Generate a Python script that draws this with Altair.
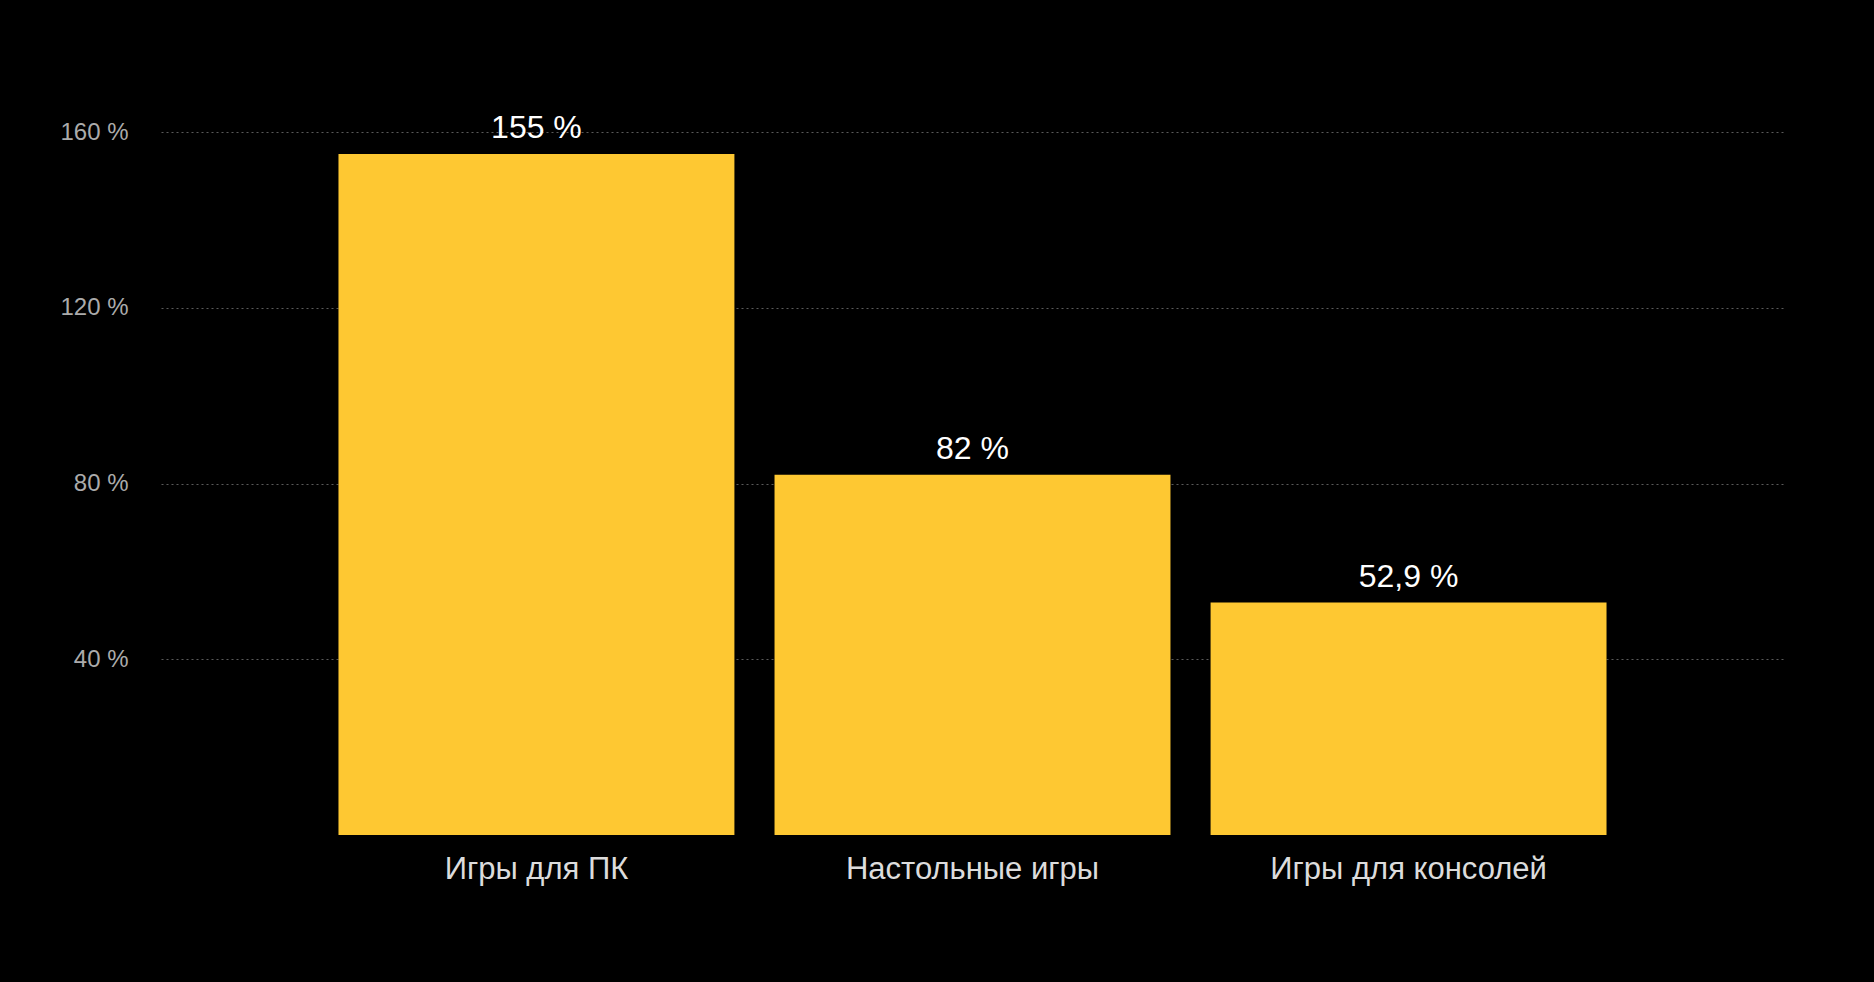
import altair as alt
import pandas as pd

categories = ["Игры для ПК", "Настольные игры", "Игры для консолей"]
values = [155, 82, 52.9]
labels = ["155 %", "82 %", "52,9 %"]
y_ticks = [40, 80, 120, 160]

df = pd.DataFrame({"cat": categories, "val": values, "lab": labels})

FONT = "Liberation Sans"

x = alt.X(
    "cat:N",
    sort=categories,
    title=None,
    scale=alt.Scale(paddingInner=0.092, paddingOuter=0.407),
    axis=alt.Axis(
        labelAngle=0,
        labelFont=FONT,
        labelFontSize=31,
        labelColor="#dcdcdc",
        labelPadding=19,
        labelLimit=0,
        ticks=False,
        domain=False,
        grid=False,
    ),
)
y = alt.Y(
    "val:Q",
    title=None,
    scale=alt.Scale(domain=[0, 160], nice=False),
    axis=alt.Axis(
        values=y_ticks,
        labelExpr="datum.value + ' %'",
        labelFont=FONT,
        labelFontSize=24,
        labelColor="#ababab",
        labelPadding=33,
        ticks=False,
        domain=False,
        grid=True,
        gridColor="#5a5a5a",
        gridDash=[2, 3],
        gridWidth=1,
    ),
)

bars = alt.Chart(df).mark_bar(color="#FEC832").encode(x=x, y=y)
text = alt.Chart(df).mark_text(
    font=FONT, fontSize=32, color="#ffffff", dy=-16, baseline="alphabetic", align="center"
).encode(x=alt.X("cat:N", sort=categories), y="val:Q", text="lab:N")

chart = (
    alt.layer(bars, text)
    .properties(
        width=1623,
        height=703,
        background="#000000",
        padding={"left": 161, "top": 132, "right": 90, "bottom": 147},
        autosize=alt.AutoSizeParams(type="none"),
    )
    .configure_view(stroke=None)
)

chart.save("out.html", embed_options={"renderer": "svg", "actions": False})
